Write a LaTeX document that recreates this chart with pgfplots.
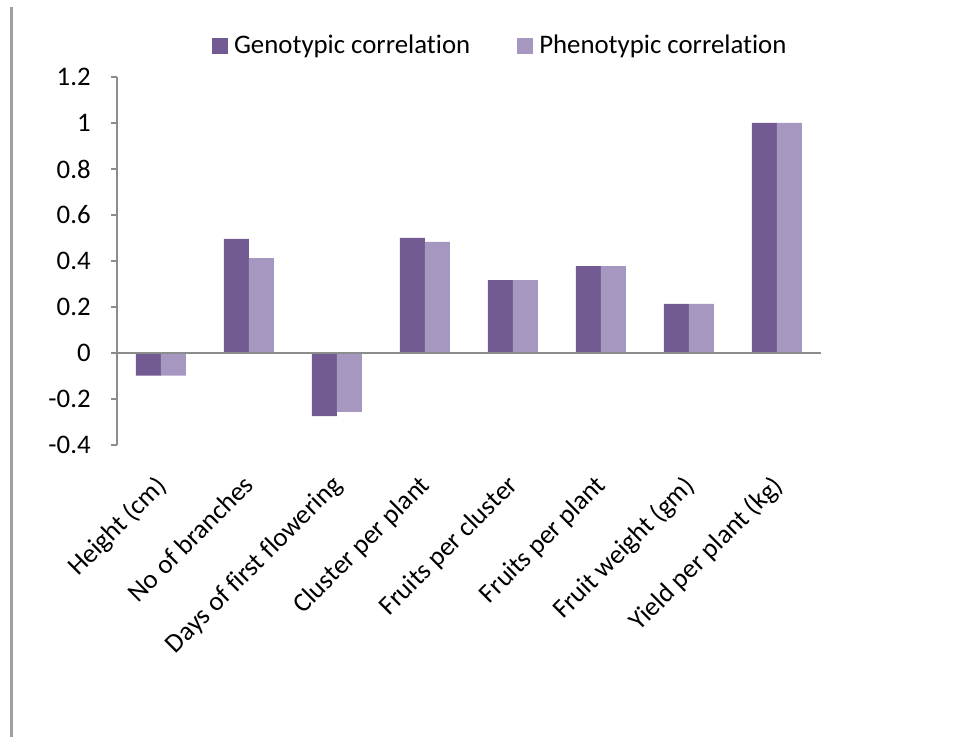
\documentclass[border=0pt]{standalone}
\usepackage{fontspec}
\setmainfont{Carlito}[Ligatures=NoCommon]
\usepackage{pgfplots}
\pgfplotsset{compat=1.18}

\definecolor{geno}{HTML}{725A92}
\definecolor{pheno}{HTML}{A597C0}
\definecolor{axisgray}{HTML}{8C8C8C}
\definecolor{framegray}{HTML}{A0A0A0}

\newcommand{\lblfont}{\fontsize{13.4bp}{16bp}\selectfont}

\begin{document}
\begin{tikzpicture}
  % page frame and left rule
  \path[use as bounding box] (0,0) rectangle (488bp,368.5bp);
  \draw[framegray, line width=1.5bp] (5.5bp,0) -- (5.5bp,365bp);

  \begin{axis}[
    at={(58.5bp,146bp)}, anchor=south west,
    scale only axis,
    width=352bp, height=184bp,
    ybar=0pt, bar width=12.5bp,
    xmin=-0.5, xmax=7.5,
    ymin=-0.4, ymax=1.2,
    ytick={-0.4,-0.2,0,0.2,0.4,0.6,0.8,1,1.2},
    xtick={0,...,7},
    xticklabels={Height (cm),No of branches,Days of first flowering,Cluster per plant,Fruits per cluster,Fruits per plant,Fruit weight (gm),Yield per plant (kg)},
    axis y line*=left,
    axis x line*=bottom,
    x axis line style={draw=none},
    y axis line style={axisgray, line width=0.6bp},
    tick align=outside,
    major tick length=3bp,
    ytick style={axisgray, line width=0.6bp},
    xtick style={draw=none},
    /pgf/number format/assume math mode=true,
    every tick label/.append style={font=\lblfont, text=black},
    yticklabel style={inner sep=0pt, xshift=-10bp},
    xticklabel style={xshift=-3.5bp, yshift=-11bp, rotate=45, anchor=north east, inner sep=0pt},
    legend columns=2,
    legend style={at={(0.543,1.084)}, anchor=center, draw=none, fill=none,
      font=\lblfont, inner sep=0pt,
      nodes={inner sep=0pt},
      /tikz/every odd column/.append style={column sep=3bp},
      /tikz/every even column/.append style={column sep=23.5bp}},
    legend image code/.code={\fill[#1] (0bp,-4bp) rectangle (8bp,4bp);},
  ]
    \addplot[fill=geno, draw=none] coordinates {
      (0,-0.098) (1,0.496) (2,-0.274) (3,0.501) (4,0.317) (5,0.378) (6,0.214) (7,1.0)};
    \addplot[fill=pheno, draw=none] coordinates {
      (0,-0.098) (1,0.413) (2,-0.256) (3,0.483) (4,0.317) (5,0.378) (6,0.214) (7,1.0)};
    \legend{Genotypic correlation, Phenotypic correlation}
    % horizontal axis through zero
    \draw[axisgray, line width=0.6bp] (axis cs:-0.5,0) -- (axis cs:7.5,0);
  \end{axis}
\end{tikzpicture}
\end{document}
